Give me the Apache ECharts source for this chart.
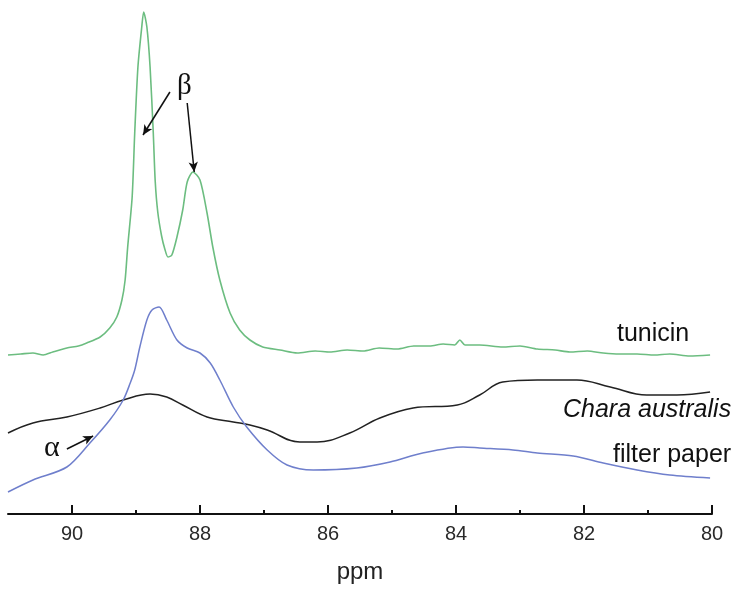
<!DOCTYPE html>
<html>
<head>
<meta charset="utf-8">
<script src="https://cdn.jsdelivr.net/npm/echarts@6/dist/echarts.min.js"></script>
<style>
  html, body { margin: 0; padding: 0; background: #fff; }
  #chart { width: 739px; height: 590px; }
</style>
</head>
<body>
<div id="chart"></div>
<script>
// chemical shift (ppm) and intensity (arbitrary units)
const tunicinPpm = [91.00, 90.80, 90.61, 90.45, 90.30, 90.08, 89.90, 89.77, 89.56, 89.41, 89.30, 89.22, 89.17, 89.13, 89.06, 89.02, 88.97, 88.91, 88.88, 88.83, 88.78, 88.73, 88.70, 88.66, 88.60, 88.55, 88.50, 88.44, 88.36, 88.27, 88.20, 88.11, 88.00, 87.89, 87.80, 87.69, 87.53, 87.38, 87.22, 87.02, 86.75, 86.48, 86.20, 85.97, 85.70, 85.45, 85.20, 84.92, 84.66, 84.41, 84.20, 84.02, 83.94, 83.86, 83.63, 83.27, 83.00, 82.73, 82.45, 82.22, 81.95, 81.70, 81.45, 81.17, 80.90, 80.66, 80.35, 80.03];
const tunicinVal = [159, 160, 161, 159, 162, 166, 168, 171, 177, 186, 197, 214, 234, 267, 317, 381, 447, 487, 502, 487, 447, 381, 333, 302, 278, 265, 257, 259, 277, 304, 332, 342, 334, 301, 267, 234, 201, 184, 174, 167, 164, 161, 163, 162, 164, 163, 166, 165, 168, 168, 170, 169, 174, 169, 169, 167, 168, 165, 164, 162, 163, 161, 160, 160, 159, 160, 158, 159];

const charaPpm = [91.00, 90.61, 90.08, 89.56, 89.20, 88.78, 88.52, 88.27, 87.89, 87.48, 87.22, 86.95, 86.44, 86.17, 85.66, 85.19, 84.67, 83.98, 83.63, 83.27, 82.73, 82.11, 81.59, 81.02, 80.55, 80.03];
const charaVal = [81, 91, 97, 106, 114, 120, 117, 109, 97, 92, 89, 84, 72, 72, 81, 96, 106, 109, 119, 132, 134, 134, 127, 119, 119, 122];

const paperPpm = [91.00, 90.61, 90.08, 89.72, 89.41, 89.20, 89.09, 89.02, 88.94, 88.83, 88.75, 88.64, 88.52, 88.36, 88.20, 88.00, 87.84, 87.69, 87.48, 87.27, 86.95, 86.64, 86.23, 85.55, 85.03, 84.52, 83.89, 83.63, 83.11, 82.73, 82.17, 81.70, 81.17, 80.66, 80.03];
const paperVal = [22, 34, 47, 71, 94, 114, 131, 144, 167, 194, 204, 207, 194, 174, 166, 161, 151, 134, 107, 87, 64, 49, 44, 46, 52, 61, 67, 66, 64, 61, 58, 51, 44, 39, 36];

const majorTicks = [90, 88, 86, 84, 82, 80];
const minorTicks = [89, 87, 85, 83, 81];

function pairs(xs, ys) {
  return xs.map((x, i) => [x, ys[i]]);
}

const chart = echarts.init(document.getElementById('chart'));

const xBase = {
  type: 'value',
  min: 80,
  max: 91,
  inverse: true,
  position: 'bottom',
  splitLine: { show: false }
};

chart.setOption({
  animation: false,
  backgroundColor: '#fff',
  grid: { left: 8, right: 27, top: 0, bottom: 76 },
  xAxis: [
    Object.assign({}, xBase, {
      name: 'ppm',
      nameLocation: 'middle',
      nameGap: 46,
      nameTextStyle: { fontSize: 24, color: '#222', fontFamily: 'Liberation Sans' },
      axisLine: { lineStyle: { color: '#111', width: 2 } },
      axisTick: { inside: true, length: 9, customValues: majorTicks, lineStyle: { color: '#111', width: 2 } },
      axisLabel: { customValues: majorTicks, margin: 10, fontSize: 20, color: '#2a2a2a', fontFamily: 'Liberation Sans' }
    }),
    Object.assign({}, xBase, {
      axisLine: { show: false },
      axisTick: { inside: true, length: 4, customValues: minorTicks, lineStyle: { color: '#111', width: 2 } },
      axisLabel: { show: false }
    })
  ],
  yAxis: { type: 'value', min: 0, max: 514, show: false, splitLine: { show: false } },
  series: [
    {
      name: 'tunicin',
      type: 'line',
      data: pairs(tunicinPpm, tunicinVal),
      showSymbol: false,
      smooth: 0.25,
      lineStyle: { color: '#6cbd80', width: 1.6 }
    },
    {
      name: 'Chara australis',
      type: 'line',
      data: pairs(charaPpm, charaVal),
      showSymbol: false,
      smooth: 0.4,
      lineStyle: { color: '#222', width: 1.5 },
      markLine: {
        silent: true,
        symbol: ['none', 'arrow'],
        symbolSize: [7, 10],
        label: { show: false },
        lineStyle: { color: '#111', width: 1.5, type: 'solid' },
        data: [
          [{ coord: [88.47, 422] }, { coord: [88.89, 379] }],
          [{ coord: [88.20, 411] }, { coord: [88.09, 342] }],
          [{ coord: [90.08, 65] }, { coord: [89.67, 78] }]
        ]
      }
    },
    {
      name: 'filter paper',
      type: 'line',
      data: pairs(paperPpm, paperVal),
      showSymbol: false,
      smooth: 0.3,
      lineStyle: { color: '#6f7fcc', width: 1.5 }
    }
  ],
  graphic: [
    { type: 'text', left: 617, top: 322, style: { text: 'tunicin', fontSize: 25, fontFamily: 'Liberation Sans', fill: '#111' } },
    { type: 'text', left: 563, top: 398, style: { text: 'Chara australis', fontSize: 25, fontStyle: 'italic', fontFamily: 'Liberation Sans', fill: '#111' } },
    { type: 'text', left: 613, top: 443, style: { text: 'filter paper', fontSize: 25, fontFamily: 'Liberation Sans', fill: '#111' } },
    { type: 'text', left: 177, top: 72, style: { text: 'β', fontSize: 29, fontFamily: 'Liberation Serif', fill: '#111' } },
    { type: 'text', left: 44, top: 433, style: { text: 'α', fontSize: 30, fontFamily: 'Liberation Serif', fill: '#111' } }
  ]
});
</script>
</body>
</html>
